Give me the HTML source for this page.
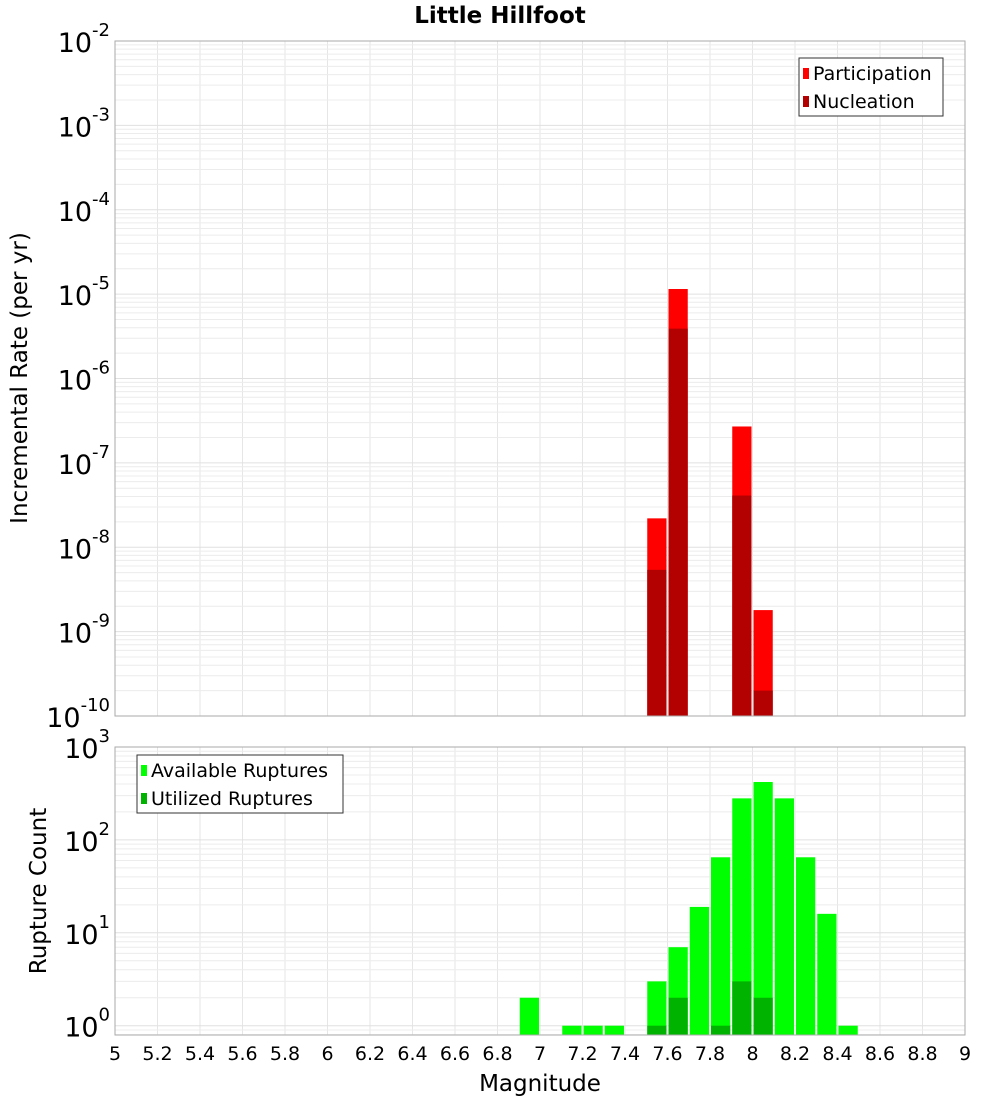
<!DOCTYPE html>
<html><head><meta charset="utf-8"><style>
body{margin:0;background:#fff;}
svg text{font-family:"DejaVu Sans","Liberation Sans",sans-serif;}
</style></head><body>
<svg id="chart" width="1000" height="1100" xmlns="http://www.w3.org/2000/svg"></svg>
<script>
const binCenters=[7.55,7.65,7.95,8.05];
const participation=[2.2e-8,1.15e-5,2.7e-7,1.8e-9];
const nucleation=[5.4e-9,3.9e-6,4.1e-8,2.0e-10];
const countBins=[6.95,7.15,7.25,7.35,7.55,7.65,7.75,7.85,7.95,8.05,8.15,8.25,8.35,8.45];
const available=[2,1,1,1,3,7,19,65,280,420,280,65,16,1];
const utilBins=[7.55,7.65,7.85,7.95,8.05];
const utilized=[1,2,1,3,2];
const xTicks=[5,5.2,5.4,5.6,5.8,6,6.2,6.4,6.6,6.8,7,7.2,7.4,7.6,7.8,8,8.2,8.4,8.6,8.8,9];
const topExp=[-2,-3,-4,-5,-6,-7,-8,-9,-10];
const botExp=[3,2,1,0];

const NS="http://www.w3.org/2000/svg";
const svg=document.getElementById('chart');
function mk(tag,attrs,parent){const e=document.createElementNS(NS,tag);for(const k in attrs)e.setAttribute(k,attrs[k]);(parent||svg).appendChild(e);return e;}
const X0=115,X1=965;
const x=v=>X0+(v-5)/4*(X1-X0);
const T0=41,T1=716;
const yT=v=>T0+(-2-Math.log10(v))/8*(T1-T0);
const B0=747,B1=1035,bMin=-0.1;
const yB=v=>B0+(3-Math.log10(v))/(3-bMin)*(B1-B0);

function grid(top,bot,yf,lo,hi,name){
  const g=mk('g',{});
  
  
  for(const t of xTicks){mk('line',{x1:x(t),x2:x(t),y1:top,y2:bot,stroke:'#e6e6e6','stroke-width':1},g);}
  for(let d=lo;d<hi;d++){for(let m=1;m<10;m++){const v=m*Math.pow(10,d);const yy=yf(v);if(yy<top||yy>bot)continue;mk('line',{x1:X0,x2:X1,y1:yy,y2:yy,stroke:m===1?'#e0e0e0':'#ececec','stroke-width':1},g);}}
}
grid(T0,T1,yT,-10,-2,'top-grid');
grid(B0,B1,yB,-1,3,'bottom-grid');

const w=x(5.1)-x(5)-2;
function bar(c,v,yf,bot,color,name){const r=mk('rect',{x:x(c)-w/2,y:yf(v),width:w,height:bot-yf(v),fill:color});

}
binCenters.forEach((c,i)=>bar(c,participation[i],yT,T1,'#ff0000','participation-bar'));
binCenters.forEach((c,i)=>bar(c,nucleation[i],yT,T1,'#b30000','nucleation-bar'));
countBins.forEach((c,i)=>bar(c,available[i],yB,B1,'#00ff00','available-bar'));
utilBins.forEach((c,i)=>bar(c,utilized[i],yB,B1,'#00b300','utilized-bar'));

const f1=mk('rect',{x:X0,y:T0,width:X1-X0,height:T1-T0,fill:'none',stroke:'#aaa'});


const f2=mk('rect',{x:X0,y:B0,width:X1-X0,height:B1-B0,fill:'none',stroke:'#aaa'});



function ylab(e,yy,name){const t=mk('text',{x:110,y:yy+11,'text-anchor':'end','font-size':27,fill:'#000'});


t.innerHTML='10<tspan dy="-16" font-size="18">'+e+'</tspan>';}
topExp.forEach(e=>ylab(e,yT(Math.pow(10,e)),'top-y-tick-label'));
botExp.forEach(e=>ylab(e,yB(Math.pow(10,e)),'bottom-y-tick-label'));
xTicks.forEach(t=>{const l=mk('text',{x:x(t),y:1060,'text-anchor':'middle','font-size':19,fill:'#000'});


l.textContent=String(t);});

function txt(s,a,name){const t=mk('text',a);t.textContent=s;

return t;}
txt('Little Hillfoot',{x:500,y:23,'text-anchor':'middle','font-size':23,'font-weight':'bold'},'chart-title');
txt('Magnitude',{x:540,y:1091,'text-anchor':'middle','font-size':23},'x-axis-title');
txt('Incremental Rate (per yr)',{x:0,y:0,'text-anchor':'middle','font-size':23,transform:'translate(27,378) rotate(-90)'},'top-y-axis-title');
txt('Rupture Count',{x:0,y:0,'text-anchor':'middle','font-size':23,transform:'translate(46,891) rotate(-90)'},'bottom-y-axis-title');

function legend(bx,by,bw,items,name){const g=mk('g',{});


mk('rect',{x:bx,y:by,width:bw,height:58,fill:'#fff',stroke:'#333'},g);
items.forEach((it,i)=>{mk('rect',{x:bx+4,y:by+10+i*28,width:6,height:11,fill:it[1]},g);
const t=mk('text',{x:bx+14,y:by+22+i*28,'font-size':19},g);t.textContent=it[0];});}
legend(799,58,144,[['Participation','#ff0000'],['Nucleation','#b30000']],'top-legend');
legend(137,755,206,[['Available Ruptures','#00ff00'],['Utilized Ruptures','#00b300']],'bottom-legend');
</script>
</body></html>
